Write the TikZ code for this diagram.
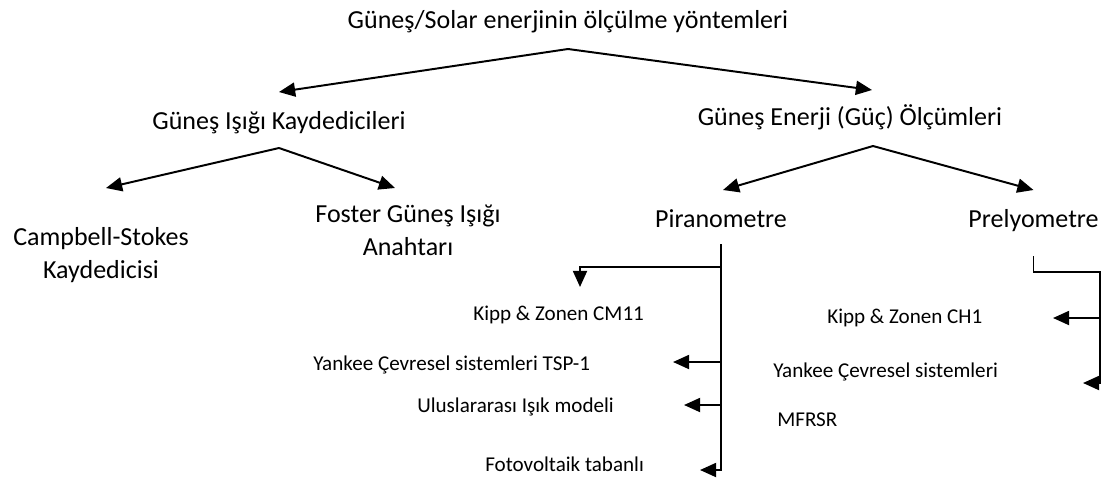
\documentclass[tikz,border=0pt]{standalone}
\usepackage{fontspec}
\setmainfont{Carlito}
\usepackage{tikz}
\usetikzlibrary{arrows.meta, positioning}

\begin{document}
\begin{tikzpicture}[
  lbl/.style={font=\fontsize{18.5}{23.5}\selectfont, inner sep=0pt, anchor=base},
  two/.style={lbl, align=center, anchor=north},
  sub/.style={font=\fontsize{15}{18}\selectfont, inner sep=0pt, anchor=base west},
  arrow/.style={-{Triangle[length=11.5pt, width=10pt]}, line width=1.4pt}
]
\useasboundingbox (0,0) rectangle (27.6,-12);
\node[lbl] (title) at (14.2,-0.7) {Güneş/Solar enerjinin ölçülme yöntemleri};
\node[lbl] (gik) at (6.975,-3.225) {Güneş Işığı Kaydedicileri};
\node[lbl] (gec) at (21.25,-3.125) {Güneş Enerji (Güç) Ölçümleri};
\node[two] (cs) at (2.525,-5.675) {Campbell-Stokes\\Kaydedicisi};
\node[two] (fg) at (10.2,-5.125) {Foster Güneş Işığı\\Anahtarı};
\node[lbl] (pir) at (18.025,-5.675) {Piranometre};
\node[lbl] (prel) at (25.8375,-5.675) {Prelyometre};
\node[sub] (cm11) at (11.825,-8.0) {Kipp \& Zonen CM11};
\node[sub] (tsp) at (7.825,-9.25) {Yankee Çevresel sistemleri TSP-1};
\node[sub] (uli) at (10.425,-10.3) {Uluslararası Işık modeli};
\node[sub] (fv) at (12.125,-11.775) {Fotovoltaik tabanlı};
\node[sub] (ch1) at (20.675,-8.075) {Kipp \& Zonen CH1};
\node[sub] (ysx) at (19.325,-9.425) {Yankee Çevresel sistemleri};
\node[sub] (mfrsr) at (19.425,-10.65) {MFRSR};
% tree
\draw[arrow] ([yshift=-0.525cm]title.base) -- ([yshift=0.925cm]gik.base);
\draw[arrow] ([yshift=-0.525cm]title.base) -- ([shift={(0.55,0.875)}]gec.base);
\draw[arrow] ([yshift=-0.475cm]gik.base) -- ([shift={(0.125,0.975)}]cs.north);
\draw[arrow] ([yshift=-0.475cm]gik.base) -- ([shift={(-0.325,0.425)}]fg.north);
\draw[arrow] ([shift={(0.575,-0.525)}]gec.base) -- ([shift={(0.05,0.925)}]pir.base);
\draw[arrow] ([shift={(0.575,-0.525)}]gec.base) -- ([yshift=0.925cm]prel.base);
% piranometre
\coordinate (ptop) at ([yshift=-0.425cm]pir.base);
\coordinate (pcm) at ([yshift=-0.575cm]ptop);
\coordinate (cm11tip) at ([shift={(2.675,0.825)}]cm11.base west);
\coordinate (tsptip) at ([shift={(9.0,0.2)}]tsp.base west);
\coordinate (ulitip) at ([shift={(6.675,0.175)}]uli.base west);
\coordinate (fvtip) at ([shift={(5.375,0.025)}]fv.base west);
\draw[arrow] (ptop) -- (ptop |- fvtip) -- (fvtip);
\draw[arrow] (pcm) -| (cm11tip);
\draw[arrow] (ptop |- tsptip) -- (tsptip);
\draw[arrow] (ptop |- ulitip) -- (ulitip);
% prelyometre
\coordinate (rtop) at ([yshift=-0.725cm]prel.base);
\coordinate (rcorner) at ([shift={(1.6625,-0.4)}]rtop);
\coordinate (ch1tip) at ([shift={(5.65,0.125)}]ch1.base west);
\coordinate (ysxtip) at ([shift={(7.75,-0.15)}]ysx.base west);
\draw[arrow] (rtop) |- (rcorner) -- (rcorner |- ysxtip) -- (ysxtip);
\draw[arrow] (rcorner |- ch1tip) -- (ch1tip);
\end{tikzpicture}
\end{document}
